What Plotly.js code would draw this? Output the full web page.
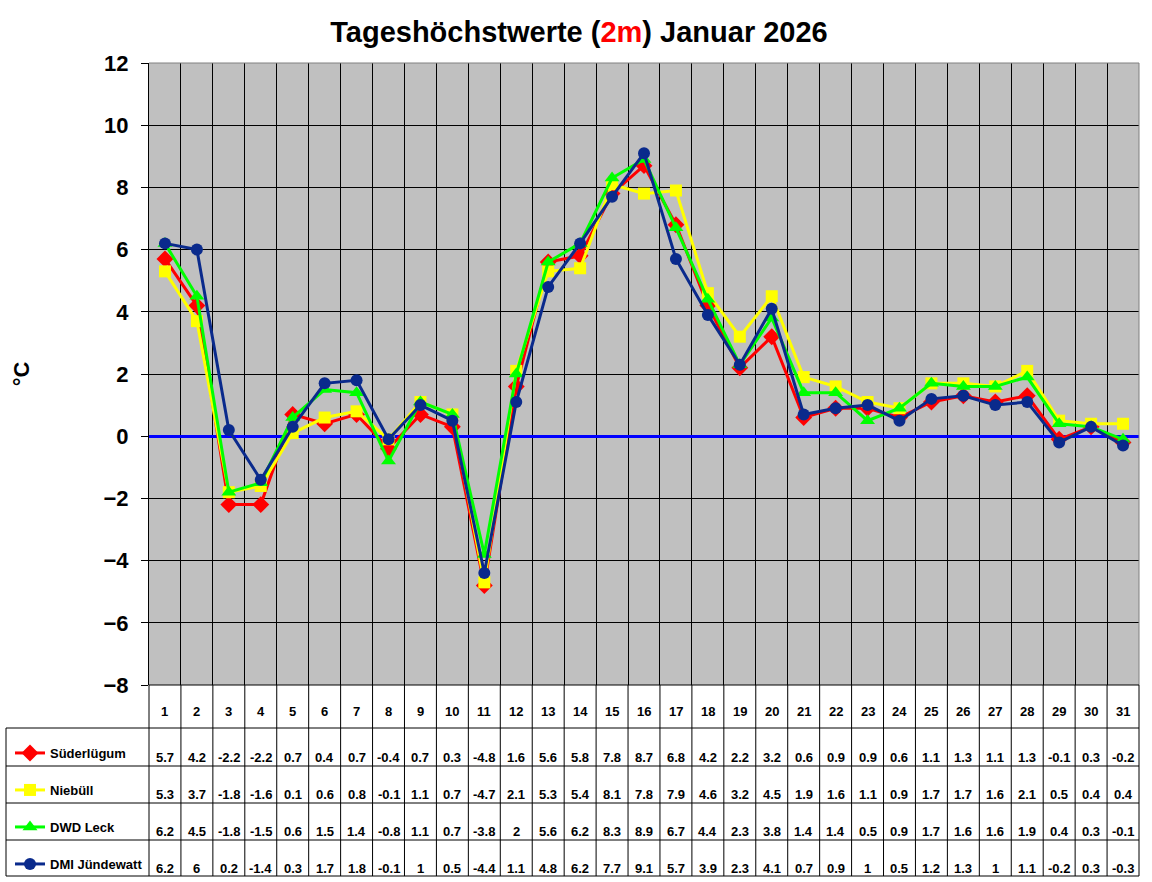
<!DOCTYPE html>
<html>
<head>
<meta charset="utf-8">
<script src="https://cdn.plot.ly/plotly-3.0.1.min.js"></script>
<style>
    body { margin: 0; background: #ffffff; }
    #chart { width: 1152px; height: 882px; }
</style>
</head>
<body>
<div id="chart"></div>
<script>
// daily maximum temperatures (2m), January 2026
const days = [1, 2, 3, 4, 5, 6, 7, 8, 9, 10, 11, 12, 13, 14, 15, 16, 17, 18, 19, 20, 21, 22, 23, 24, 25, 26, 27, 28, 29, 30, 31]
const suederluegum = [5.7, 4.2, -2.2, -2.2, 0.7, 0.4, 0.7, -0.4, 0.7, 0.3, -4.8, 1.6, 5.6, 5.8, 7.8, 8.7, 6.8, 4.2, 2.2, 3.2, 0.6, 0.9, 0.9, 0.6, 1.1, 1.3, 1.1, 1.3, -0.1, 0.3, -0.2]
const niebuell = [5.3, 3.7, -1.8, -1.6, 0.1, 0.6, 0.8, -0.1, 1.1, 0.7, -4.7, 2.1, 5.3, 5.4, 8.1, 7.8, 7.9, 4.6, 3.2, 4.5, 1.9, 1.6, 1.1, 0.9, 1.7, 1.7, 1.6, 2.1, 0.5, 0.4, 0.4]
const dwdLeck = [6.2, 4.5, -1.8, -1.5, 0.6, 1.5, 1.4, -0.8, 1.1, 0.7, -3.8, 2, 5.6, 6.2, 8.3, 8.9, 6.7, 4.4, 2.3, 3.8, 1.4, 1.4, 0.5, 0.9, 1.7, 1.6, 1.6, 1.9, 0.4, 0.3, -0.1]
const dmiJuendewatt = [6.2, 6, 0.2, -1.4, 0.3, 1.7, 1.8, -0.1, 1, 0.5, -4.4, 1.1, 4.8, 6.2, 7.7, 9.1, 5.7, 3.9, 2.3, 4.1, 0.7, 0.9, 1, 0.5, 1.2, 1.3, 1, 1.1, -0.2, 0.3, -0.3]

const stationNames = ["Süderlügum", "Niebüll", "DWD Leck", "DMI Jündewatt"]
const stationValues = [suederluegum, niebuell, dwdLeck, dmiJuendewatt]
const stationColors = ["#FF0000", "#FFFF00", "#00FF00", "#0A2A8C"]
const stationSymbols = ["diamond", "square", "triangle-up", "circle"]
const stationSizes = [13, 12, 13, 12]

const FONT = "Arial, 'Liberation Sans', sans-serif"

// plot area in page pixels
const W = 1152, H = 882
const PL = 149, PR = 1139, PT = 63, PB = 685

function paperX(px) {
    return (px - PL) / (PR - PL)
}

function paperY(py) {
    return (PB - py) / (PB - PT)
}

// table under the plot
const rowLines = [728, 766, 803, 840, 876]
const headerY = 712
const rowTextY = [757, 794, 831, 868]
const legendY = [753, 790, 827, 864]

function legendKey(i) {
    return i === 0 ? "legend" : "legend" + (i + 1)
}

let traces = []
for (let i = 0; i < stationNames.length; i++) {
    traces.push({
        type: "scatter",
        mode: "lines+markers",
        x: days,
        y: stationValues[i],
        name: stationNames[i],
        legend: legendKey(i),
        showlegend: true,
        line: {color: stationColors[i], width: 3},
        marker: {color: stationColors[i], symbol: stationSymbols[i], size: stationSizes[i]},
        cliponaxis: false
    })
}

let shapes = []
// plot frame: gray top/right, black bottom
shapes.push({type: "line", xref: "paper", yref: "paper", x0: 0, x1: 1, y0: 1, y1: 1, line: {color: "#808080", width: 1}})
shapes.push({type: "line", xref: "paper", yref: "paper", x0: 1, x1: 1, y0: 0, y1: 1, line: {color: "#808080", width: 1}})
shapes.push({type: "line", xref: "paper", yref: "paper", x0: 0, x1: 1, y0: 0, y1: 0, line: {color: "#000000", width: 1}})

// table column lines
for (let k = 0; k <= days.length; k++) {
    let x = k / days.length
    shapes.push({type: "line", xref: "paper", yref: "paper", x0: x, x1: x, y0: paperY(PB), y1: paperY(rowLines[rowLines.length - 1]), line: {color: "#000000", width: 1}})
}
// table row lines
for (let r = 0; r < rowLines.length; r++) {
    let y = paperY(rowLines[r])
    shapes.push({type: "line", xref: "paper", yref: "paper", x0: paperX(6), x1: 1, y0: y, y1: y, line: {color: "#000000", width: 1}})
}
shapes.push({type: "line", xref: "paper", yref: "paper", x0: paperX(6), x1: paperX(6), y0: paperY(rowLines[0]), y1: paperY(rowLines[rowLines.length - 1]), line: {color: "#000000", width: 1}})

let annotations = []
for (let d = 0; d < days.length; d++) {
    annotations.push({
        x: days[d], xref: "x", y: paperY(headerY), yref: "paper",
        xanchor: "center", yanchor: "middle",
        text: String(days[d]), showarrow: false,
        font: {family: FONT, size: 13, color: "#000000", weight: "bold"}
    })
    for (let s = 0; s < stationValues.length; s++) {
        annotations.push({
            x: days[d], xref: "x", y: paperY(rowTextY[s]), yref: "paper",
            xanchor: "center", yanchor: "middle",
            text: String(stationValues[s][d]), showarrow: false,
            font: {family: FONT, size: 13, color: "#000000", weight: "bold"}
        })
    }
}

let layout = {
    width: W,
    height: H,
    margin: {l: PL, r: W - PR, t: PT, b: H - PB, pad: 0, autoexpand: false},
    showlegend: true,
    paper_bgcolor: "#FFFFFF",
    plot_bgcolor: "#C0C0C0",
    title: {
        text: "Tageshöchstwerte (<span style=\"color:#FF0000\">2m</span>) Januar 2026",
        font: {family: FONT, size: 29, color: "#000000", weight: "bold"},
        x: 579 / W, xref: "container", xanchor: "center",
        y: 1 - 32 / H, yref: "container", yanchor: "middle"
    },
    xaxis: {
        range: [0.5, 31.5],
        tickvals: days.slice(0, -1).map(d => d + 0.5),
        showticklabels: false,
        ticks: "",
        showgrid: true,
        gridcolor: "#000000",
        gridwidth: 1,
        zeroline: false,
        showline: false,
        fixedrange: true
    },
    yaxis: {
        range: [-8, 12],
        dtick: 2,
        tick0: 0,
        ticks: "outside",
        ticklen: 7,
        tickcolor: "#000000",
        tickwidth: 1,
        ticklabelstandoff: 8,
        tickfont: {family: FONT, size: 22, color: "#000000", weight: "bold"},
        showgrid: true,
        gridcolor: "#000000",
        gridwidth: 1,
        zeroline: true,
        zerolinecolor: "#0000FF",
        zerolinewidth: 3,
        showline: true,
        linecolor: "#000000",
        linewidth: 1,
        title: {
            text: "°C",
            font: {family: FONT, size: 22, color: "#000000", weight: "bold"},
            standoff: 67
        },
        automargin: false,
        fixedrange: true
    },
    shapes: shapes,
    annotations: annotations
}

// one legend per table row
for (let i = 0; i < stationNames.length; i++) {
    layout[legendKey(i)] = {
        visible: true,
        x: paperX(10),
        xanchor: "left",
        y: paperY(legendY[i]),
        yanchor: "middle",
        bgcolor: "rgba(0,0,0,0)",
        borderwidth: 0,
        itemwidth: 30,
        font: {family: FONT, size: 13, color: "#000000", weight: "bold"}
    }
}

Plotly.newPlot("chart", traces, layout, {displayModeBar: false, staticPlot: true})
</script>
</body>
</html>
